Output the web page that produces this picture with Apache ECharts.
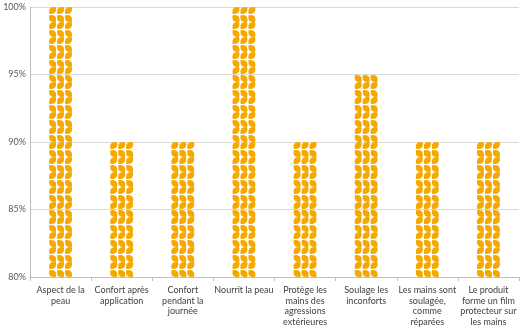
<!DOCTYPE html>
<html>
<head>
<meta charset="utf-8">
<style>
  html, body { margin: 0; padding: 0; background: #ffffff; }
  #chart { width: 524px; height: 335px; }
</style>
<script src="https://cdn.jsdelivr.net/npm/echarts@6/dist/echarts.min.js"></script>
</head>
<body>
<div id="chart"></div>
<script>
// Categories (x axis labels, line breaks included)
const categories = [
  'Aspect de la\npeau',
  'Confort après\napplication',
  'Confort\npendant la\njournée',
  'Nourrit la peau',
  'Protège les\nmains des\nagressions\nextérieures',
  'Soulage les\ninconforts',
  'Les mains sont\nsoulagée,\ncomme\nréparées',
  'Le produit\nforme un film\nprotecteur sur\nles mains'
];

// Share of agreement, in percent
const values = [100, 90, 90, 100, 90, 95, 90, 90];

// Y axis range and step, in percent
const yMin = 80;
const yMax = 100;
const yStep = 5;

// Bars are drawn as height above the axis floor so the leaf stack starts at 80%
const heights = values.map(v => v - yMin);

// Leaf pattern: three columns of "<" chevrons, each made of two leaves
function leaf(x1, y1, x2, y2, w) {
  const mx = (x1 + x2) / 2, my = (y1 + y2) / 2;
  const dx = x2 - x1, dy = y2 - y1;
  const len = Math.sqrt(dx * dx + dy * dy);
  const nx = -dy / len * w, ny = dx / len * w;
  return 'M' + x1 + ' ' + y1 +
    ' Q' + (mx + nx).toFixed(2) + ' ' + (my + ny).toFixed(2) + ' ' + x2 + ' ' + y2 +
    ' Q' + (mx - nx).toFixed(2) + ' ' + (my - ny).toFixed(2) + ' ' + x1 + ' ' + y1 + ' Z ';
}
let leafPath = '';
for (let c = 0; c < 3; c++) {
  const ox = c * 10;
  leafPath += leaf(ox + 1.0, 9.0, ox + 9.4, 0.6, 8.4);
  leafPath += leaf(ox + 1.0, 11.0, ox + 9.4, 19.4, 8.4);
}
const leafSymbol = 'path://' + leafPath;

const chart = echarts.init(document.getElementById('chart'), null, { renderer: 'canvas' });

chart.setOption({
  animation: false,
  backgroundColor: '#ffffff',
  grid: { left: 30, right: 5, top: 7, bottom: 58, containLabel: false },
  xAxis: {
    type: 'category',
    data: categories,
    boundaryGap: true,
    axisLine: { show: true, lineStyle: { color: '#bfbfbf', width: 1 } },
    axisTick: { show: true, alignWithLabel: false, length: 4, lineStyle: { color: '#bfbfbf' } },
    axisLabel: {
      interval: 0,
      margin: 8,
      color: '#404040',
      fontFamily: 'Lato',
      fontSize: 9,
      lineHeight: 10.5,
      align: 'center'
    }
  },
  yAxis: {
    type: 'value',
    min: 0,
    max: yMax - yMin,
    interval: yStep,
    axisLine: { show: true, lineStyle: { color: '#bfbfbf', width: 1 } },
    axisTick: { show: false },
    splitLine: { show: true, lineStyle: { color: '#d9d9d9', width: 1 } },
    axisLabel: {
      formatter: v => (v + yMin) + '%',
      color: '#595959',
      fontFamily: 'Lato',
      fontSize: 9,
      margin: 4
    }
  },
  series: [{
    type: 'pictorialBar',
    data: heights,
    symbol: leafSymbol,
    symbolSize: [23, 15],
    symbolRepeat: true,
    symbolClip: true,
    symbolMargin: 0,
    symbolPosition: 'start',
    itemStyle: { color: '#f5a900' },
    z: 5
  }]
});
</script>
</body>
</html>
